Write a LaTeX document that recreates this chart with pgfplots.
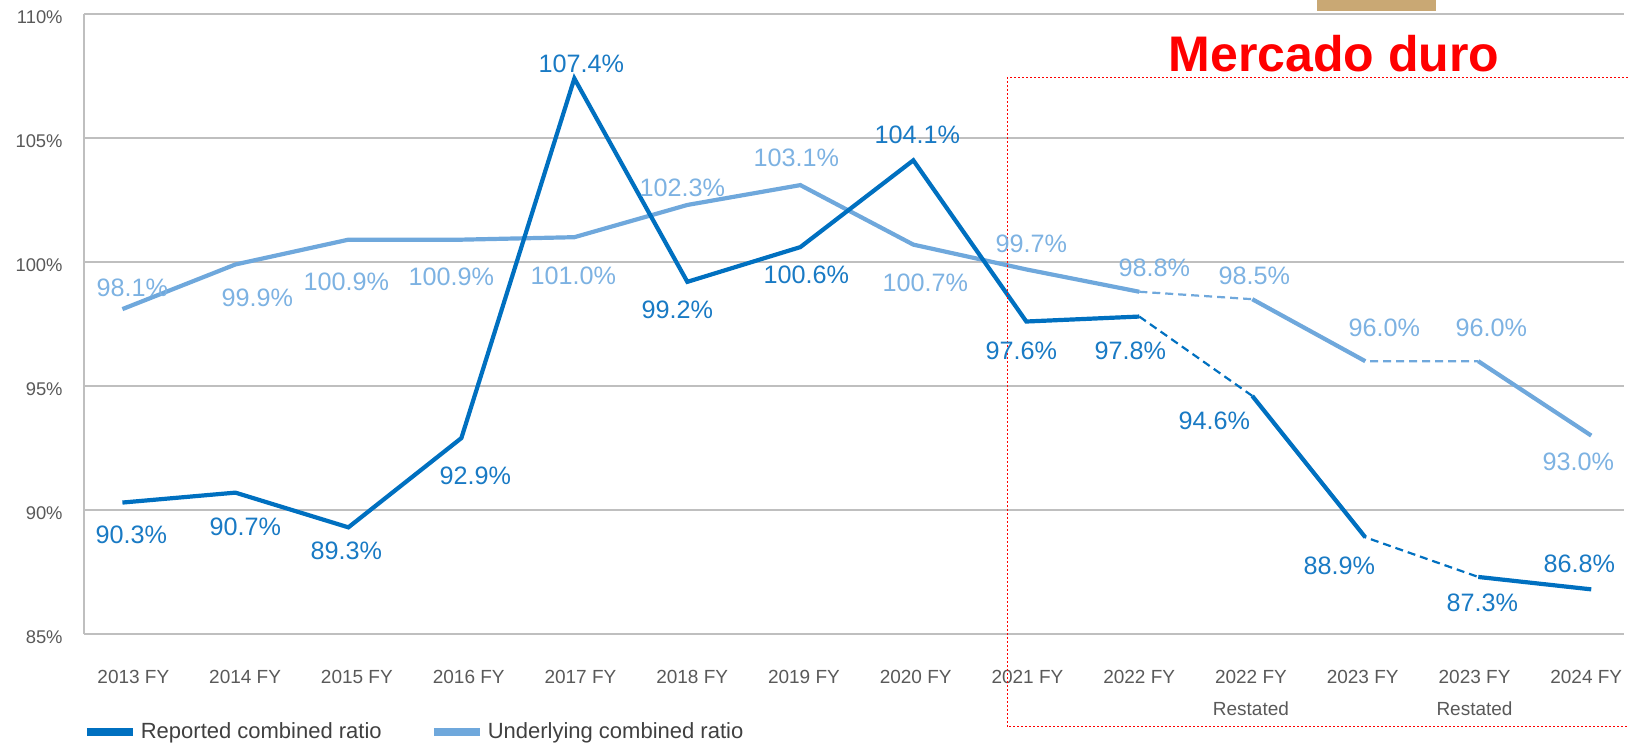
\documentclass[border=0pt]{standalone}
\usepackage{fontspec}
\setmainfont{Liberation Sans}
\usepackage{pgfplots}
\pgfplotsset{compat=1.18}
\usepackage{pgfplotstable}
\definecolor{repLine}{RGB}{0,112,192}
\definecolor{repText}{RGB}{25,122,196}
\definecolor{undLine}{RGB}{111,168,220}
\definecolor{undText}{RGB}{125,178,226}
\definecolor{gridc}{RGB}{191,191,191}
\definecolor{tickc}{RGB}{89,89,89}
\definecolor{legc}{RGB}{64,64,64}
\definecolor{gold}{RGB}{201,168,116}

% Reported combined ratio (dx, dy: label offsets in pt)
\pgfplotstableread{
x y dx dy
0 90.3 4.5 -16
1 90.7 5 -17
2 89.3 -1 -11.5
3 92.9 7 -19
4 107.4 3.5 7.5
5 99.2 -5 -14
6 100.6 3 -14
7 104.1 2 12.5
8 97.6 -2.5 -14.5
9 97.8 -4.5 -17
10 94.6 -19 -12.5
11 88.9 -13 -14.5
12 87.3 2 -13
13 86.8 -6 13
}\rep

% Underlying combined ratio
\pgfplotstableread{
x y dx dy
0 98.1 5 10.5
1 99.9 11 -16.5
2 100.9 -1 -21
3 100.9 -5 -18.5
4 101.0 -0.5 -19.5
5 102.3 -2.5 8.5
6 103.1 -2 13.5
7 100.7 6 -19
8 99.7 2.5 13
9 98.8 7.5 12
10 98.5 1 11.5
11 96.0 9.5 16.5
12 96.0 6.5 16.5
13 93.0 -6.5 -13
}\und

\begin{document}
\begin{tikzpicture}
\path[use as bounding box] (0,0) rectangle (814pt,371.5pt);
\fill[gold] (658.5pt,366pt) rectangle (718pt,371.5pt);
\begin{axis}[
  at={(42pt,54.5pt)}, anchor=south west,
  scale only axis, width=770pt, height=310pt,
  xmin=-0.34, xmax=13.29, ymin=85, ymax=110,
  axis line style={draw=none},
  ytick={85,90,95,100,105,110},
  ymajorgrids, grid style={gridc, line width=0.8pt},
  major tick length=0pt,
  /pgf/number format/assume math mode=true,
  yticklabel={\pgfmathprintnumber{\tick}\%},
  yticklabel style={font=\fontsize{9.2}{11}\selectfont, text=tickc, anchor=east, inner sep=0pt, xshift=-10.5pt, yshift=-1.5pt},
  xtick={0.097,1.086,2.075,3.065,4.054,5.043,6.032,7.021,8.010,8.999,9.988,10.977,11.967,12.956},
  xticklabels={2013 FY,2014 FY,2015 FY,2016 FY,2017 FY,2018 FY,2019 FY,2020 FY,2021 FY,2022 FY,{2022 FY\\Restated},2023 FY,{2023 FY\\Restated},2024 FY},
  xticklabel style={font=\fontsize{9.5}{16}\selectfont, text=tickc, align=center, anchor=north, inner sep=0pt, yshift=-18pt},
  clip=false,
  legend columns=2,
  legend style={at={(-0.001,-0.1585)}, anchor=west, draw=none, fill=none, inner sep=0pt,
    font=\fontsize{11}{13}\selectfont, text=legc,
    /tikz/every even column/.append style={column sep=22pt},
    nodes={inner sep=2pt}},
  legend image code/.code={\draw[#1, line width=4pt] (0pt,0pt) -- (23pt,0pt);},
]
\draw[gridc, line width=0.8pt] (rel axis cs:0,0) -- (rel axis cs:0,1);

\addlegendimage{repLine}
\addlegendentry{Reported combined ratio}
\addlegendimage{undLine}
\addlegendentry{Underlying combined ratio}

% Underlying
\addplot[forget plot, undLine, line width=1.1pt, dash pattern=on 4pt off 2.5pt, restrict x to domain=9:12] table[x=x,y=y] {\und};
\addplot[forget plot, undLine, line width=2.1pt, restrict x to domain=0:9] table[x=x,y=y] {\und};
\addplot[forget plot, undLine, line width=2.1pt, restrict x to domain=10:11] table[x=x,y=y] {\und};
\addplot[forget plot, undLine, line width=2.1pt, restrict x to domain=12:13] table[x=x,y=y] {\und};

% Reported
\addplot[forget plot, repLine, line width=1.1pt, dash pattern=on 4pt off 2.5pt, restrict x to domain=9:12] table[x=x,y=y] {\rep};
\addplot[forget plot, repLine, line width=2.1pt, restrict x to domain=0:9] table[x=x,y=y] {\rep};
\addplot[forget plot, repLine, line width=2.1pt, restrict x to domain=10:11] table[x=x,y=y] {\rep};
\addplot[forget plot, repLine, line width=2.1pt, restrict x to domain=12:13] table[x=x,y=y] {\rep};

% Labels
\addplot[forget plot, draw=none, mark=none, point meta=y,
  visualization depends on={\thisrow{dx}\as\dx},
  visualization depends on={\thisrow{dy}\as\dy},
  nodes near coords={\pgfmathprintnumber[fixed,fixed zerofill,precision=1,assume math mode=true]{\pgfplotspointmeta}\%},
  every node near coord/.append style={anchor=center, text=undText, font=\fontsize{12.6}{14}\selectfont, xshift=\dx pt, yshift=\dy pt}]
  table[x=x,y=y] {\und};
\addplot[forget plot, draw=none, mark=none, point meta=y,
  visualization depends on={\thisrow{dx}\as\dx},
  visualization depends on={\thisrow{dy}\as\dy},
  nodes near coords={\pgfmathprintnumber[fixed,fixed zerofill,precision=1,assume math mode=true]{\pgfplotspointmeta}\%},
  every node near coord/.append style={anchor=center, text=repText, font=\fontsize{12.6}{14}\selectfont, xshift=\dx pt, yshift=\dy pt}]
  table[x=x,y=y] {\rep};

\draw[red, line width=0.5pt, dash pattern=on 1pt off 1pt]
  (axis cs:13.324,107.42) -- (axis cs:7.83,107.42) -- (axis cs:7.83,81.25) -- (axis cs:13.324,81.25);
\end{axis}
\node[anchor=base, text=red, font=\fontsize{25}{30}\selectfont\bfseries] at (667pt,335.5pt) {Mercado duro};
\end{tikzpicture}
\end{document}
